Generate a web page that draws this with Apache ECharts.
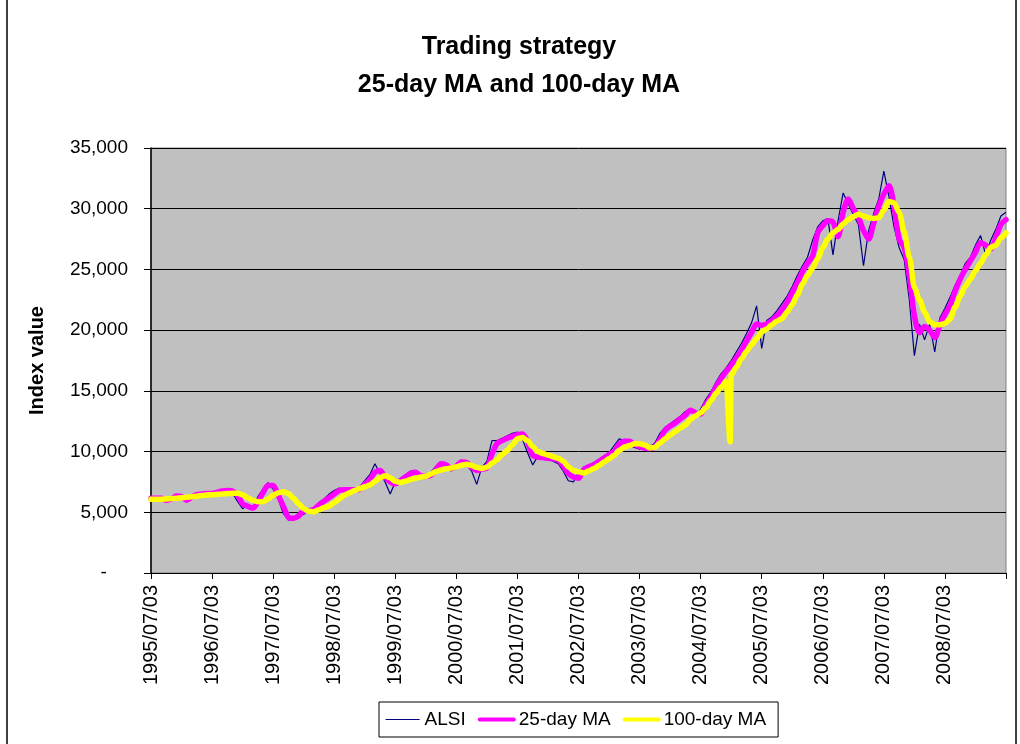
<!DOCTYPE html>
<html>
<head>
<meta charset="utf-8">
<script src="https://cdn.jsdelivr.net/npm/echarts@6/dist/echarts.min.js"></script>
<style>
html, body { margin: 0; padding: 0; background: #fff; }
#chart { width: 1020px; height: 744px; }
</style>
</head>
<body>
<div id="chart"></div>
<script>
// one label per year, one value per month from 1995/07 to 2009/07
var yearLabels = ['1995/07/03', '1996/07/03', '1997/07/03', '1998/07/03', '1999/07/03',
    '2000/07/03', '2001/07/03', '2002/07/03', '2003/07/03', '2004/07/03',
    '2005/07/03', '2006/07/03', '2007/07/03', '2008/07/03'];

var alsi = [
    6200, 6100, 6250, 5850, 6200, 6400, 6200, 5900, 6400, 6500, 6450, 6600,
    6600, 6700, 6800, 6850, 6600, 5900, 5300, 5600, 5200, 6300, 6900, 7450,
    6900, 6100, 4900, 4350, 4600, 4900, 4800, 5300, 5350, 5800, 6100, 6500,
    6800, 7000, 6750, 6950, 6800, 7100, 7600, 8100, 9000, 8200, 7500, 6500,
    7500, 7800, 8100, 8400, 8150, 7800, 8050, 8300, 8800, 9100, 8700, 8400,
    9000, 9300, 8900, 8400, 7300, 8700, 9200, 10900, 10900, 11100, 11300, 11500,
    11600, 11000, 9900, 8900, 9600, 9400, 9500, 9200, 9000, 8400, 7600, 7500,
    8300, 8700, 8850, 9100, 9350, 9650, 9900, 10500, 11050, 10900, 10500, 10350,
    10200, 10300, 10350, 10700, 11500, 12000, 12300, 12600, 12900, 13300, 13500, 12900,
    13500, 14300, 14900, 15700, 16400, 16900, 17500, 18200, 18900, 19700, 20600, 22000,
    18500, 20800, 21100, 21600, 22200, 22800, 23600, 24500, 25300, 26000, 27400, 28500,
    29000, 29200, 26200, 29000, 31300, 30400, 29500, 28700, 25300, 28200, 29600, 30800,
    33100, 31000, 28500, 26800, 25800, 22500, 17900, 20500, 19200, 20500, 18200, 21000,
    21800, 22700, 23700, 24500, 25500, 26000, 27000, 27800, 26200, 27400, 28300, 29400,
    29700
];

var ma25 = [
    6150, 6150, 6150, 6000, 6100, 6350, 6300, 6000, 6250, 6450, 6500, 6550,
    6550, 6650, 6750, 6800, 6750, 6400, 5700, 5500, 5350, 5850, 6600, 7200,
    7200, 6400, 5500, 4600, 4500, 4700, 5100, 5100, 5250, 5600, 5900, 6200,
    6500, 6800, 6850, 6850, 6850, 6900, 7300, 7700, 8300, 8450, 7900, 7500,
    7350, 7600, 7900, 8200, 8300, 8000, 7950, 8050, 8500, 9000, 8900, 8600,
    8800, 9150, 9100, 8700, 8450, 8550, 8650, 9800, 10650, 10900, 11100, 11250,
    11400, 11450, 10800, 9700, 9550, 9500, 9450, 9400, 9300, 8800, 8200, 7900,
    7800, 8500, 8750, 8900, 9200, 9450, 9750, 10000, 10600, 10850, 10850, 10600,
    10400, 10300, 10250, 10400, 11000, 11750, 12100, 12350, 12700, 13000, 13400, 13200,
    13100, 13900, 14500, 15300, 16000, 16600, 17100, 17700, 18300, 19100, 19800, 20500,
    20400, 20500, 20800, 21200, 21700, 22300, 23100, 23900, 24800, 25500, 26100, 28000,
    28600, 29000, 28900, 27700, 29700, 30800, 30000, 29300, 28200, 27500, 28800, 30200,
    31200, 31900, 30200, 27500, 26800, 24500, 21200, 19800, 20300, 20000, 19400, 20400,
    21300, 22000, 23200, 24200, 25000, 25700, 26400, 27200, 27000, 26700, 27600, 28700,
    29100
];

var ma100 = [
    6070, 6070, 6080, 6100, 6130, 6160, 6190, 6230, 6280, 6330, 6380, 6420,
    6450, 6480, 6510, 6540, 6560, 6560, 6450, 6200, 6000, 5870, 5880, 6100,
    6400, 6600, 6700, 6550, 6150, 5700, 5300, 5080, 5050, 5200, 5400, 5500,
    5800, 6100, 6400, 6600, 6800, 6950, 7100, 7250, 7550, 7850, 8000, 7850,
    7550, 7450, 7550, 7700, 7800, 7900, 7950, 8150, 8350, 8480, 8580, 8650,
    8750, 8880, 8950, 8850, 8700, 8600, 8700, 9050, 9350, 9750, 10100, 10550,
    11050, 11150, 10900, 10400, 10000, 9850, 9720, 9580, 9450, 9200, 8750, 8450,
    8330, 8230, 8400, 8600, 8850, 9150, 9400, 9700, 10100, 10350, 10500, 10650,
    10650, 10550, 10300, 10350, 10700, 11050, 11350, 11650, 11950, 12200, 12650, 12950,
    13200, 13600, 14200, 14800, 15300, 15800, 16300, 16950, 17650, 18250, 18800, 19300,
    19850, 20100, 20450, 20750, 20950, 21500, 22100, 22900, 23800, 24500, 25100, 25900,
    26800, 27500, 28000, 28300, 28750, 29100, 29350, 29550, 29400, 29250, 29200, 29250,
    29900, 30600, 30500, 29700, 28100, 26000, 23500, 22500, 21500, 20700, 20450, 20450,
    20550, 20900, 21900, 22800, 23600, 24200, 24900, 25500, 26200, 26800, 27000, 27600,
    28000
];

// single bad reading in the 100-day MA, late December 2004 (month index 113.8)
var ma100GlitchMonth = 113.8;
var ma100GlitchValue = 10800;

function pairs(list) {
    return list.map(function (v, i) { return [i, v]; });
}

var ma100Data = pairs(ma100);
ma100Data.splice(Math.ceil(ma100GlitchMonth), 0, [ma100GlitchMonth, ma100GlitchValue]);

function thousands(v) {
    if (v === 0) return '-    ';
    return String(v).replace(/\B(?=(\d{3})+(?!\d))/g, ',');
}

var font = 'Liberation Sans, Arial, sans-serif';
var myChart = echarts.init(document.getElementById('chart'));

myChart.setOption({
    animation: false,
    backgroundColor: '#fff',
    textStyle: { fontFamily: font },
    graphic: [
        { type: 'line', shape: { x1: 7, y1: 0, x2: 7, y2: 744 }, style: { stroke: '#000', lineWidth: 1.5 } },
        { type: 'line', shape: { x1: 1016, y1: 0, x2: 1016, y2: 744 }, style: { stroke: '#000', lineWidth: 1.5 } },
        { type: 'text', x: 519, y: 47, style: { text: 'Trading strategy', font: 'bold 25px ' + font, fill: '#000', textAlign: 'center', textVerticalAlign: 'middle' } },
        { type: 'text', x: 519, y: 85, style: { text: '25-day MA and 100-day MA', font: 'bold 25px ' + font, fill: '#000', textAlign: 'center', textVerticalAlign: 'middle' } }
    ],
    legend: {
        left: 379,
        top: 702,
        padding: [8, 12, 8, 6],
        itemGap: 12,
        itemWidth: 34,
        itemHeight: 14,
        itemStyle: { opacity: 0 },
        borderColor: '#000',
        borderWidth: 1,
        textStyle: { fontSize: 19, color: '#000', fontFamily: font },
        data: [
            { name: 'ALSI', lineStyle: { width: 1.2 } },
            { name: '25-day MA', lineStyle: { width: 4 } },
            { name: '100-day MA', lineStyle: { width: 4 } }
        ]
    },
    grid: {
        left: 151,
        right: 14,
        top: 148,
        bottom: 171,
        show: true,
        backgroundColor: '#C0C0C0',
        borderColor: '#808080',
        borderWidth: 1
    },
    xAxis: {
        type: 'value',
        min: 0,
        max: 168,
        interval: 12,
        splitLine: { show: false },
        axisLine: { lineStyle: { color: '#000', width: 1 } },
        axisTick: { length: 6, lineStyle: { color: '#000' } },
        axisLabel: {
            rotate: 90,
            margin: 12,
            fontSize: 20,
            color: '#000',
            fontFamily: font,
            formatter: function (v) { return yearLabels[v / 12] || ''; }
        }
    },
    yAxis: {
        type: 'value',
        min: 0,
        max: 35000,
        interval: 5000,
        name: 'Index value',
        nameLocation: 'middle',
        nameGap: 104,
        nameRotate: 90,
        nameTextStyle: { fontSize: 20, fontWeight: 'bold', color: '#000', fontFamily: font },
        axisLine: { show: true, lineStyle: { color: '#000', width: 1.5 } },
        axisTick: { show: true, length: 7, lineStyle: { color: '#000' } },
        splitLine: { lineStyle: { color: '#000', width: 1 } },
        axisLabel: {
            margin: 23,
            fontSize: 19,
            color: '#000',
            fontFamily: font,
            formatter: thousands
        }
    },
    series: [
        {
            name: 'ALSI',
            type: 'line',
            symbol: 'none',
            data: pairs(alsi),
            lineStyle: { color: '#000080', width: 1.2 },
            itemStyle: { color: '#000080' }
        },
        {
            name: '25-day MA',
            type: 'line',
            symbol: 'none',
            smooth: 0.3,
            data: pairs(ma25),
            lineStyle: { color: '#FF00FF', width: 5.5, join: 'round', cap: 'round' },
            itemStyle: { color: '#FF00FF' }
        },
        {
            name: '100-day MA',
            type: 'line',
            symbol: 'none',
            smooth: 0.3,
            smoothMonotone: 'x',
            data: ma100Data,
            lineStyle: { color: '#FFFF00', width: 5.5, join: 'round', cap: 'round' },
            itemStyle: { color: '#FFFF00' }
        }
    ]
});
</script>
</body>
</html>
